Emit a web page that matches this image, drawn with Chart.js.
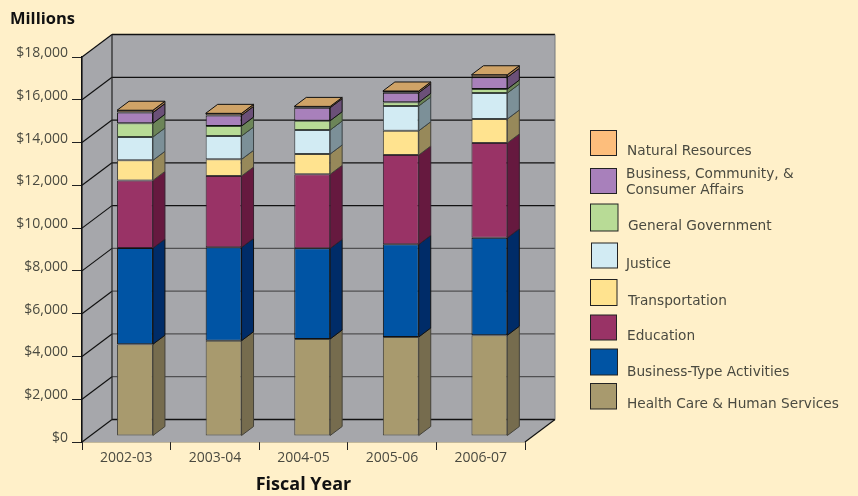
<!DOCTYPE html>
<html lang="en">
<head>
  <meta charset="UTF-8" />
  <title>Expenditures by Fiscal Year</title>
  <script src="https://cdn.jsdelivr.net/npm/chart.js"></script>
  <style>
    html, body { margin: 0; padding: 0; background: #FFF0C9; }
    canvas { display: block; }
  </style>
</head>
<body>
  <canvas id="chart" width="858" height="496"></canvas>

  <script>
    const categories = ['2002-03', '2003-04', '2004-05', '2005-06', '2006-07'];
    const yTicks = [0, 2000, 4000, 6000, 8000, 10000, 12000, 14000, 16000, 18000];

    // stack order, bottom to top ($ millions)
    const healthCare = [4290, 4455, 4535, 4630, 4710];
    const businessType = [4500, 4365, 4240, 4330, 4560];
    const education = [3160, 3335, 3460, 4175, 4430];
    const transportation = [940, 780, 950, 1135, 1120];
    const justice = [1090, 1090, 1120, 1160, 1215];
    const generalGovernment = [640, 465, 435, 170, 185];
    const businessCommunity = [500, 500, 610, 450, 550];
    const naturalResources = [110, 95, 60, 80, 120];

    const inkColor = '#4A4A40';
    const lineColor = '#111111';
    const softLine = '#505052';
    const wallColor = '#A6A7AB';
    const topColor = '#CFA367';

    // 3D look: how far the back wall and the bar depth sit from the front plane
    const wallDepth = { x: 30, y: -22.5 };
    const barShift = { x: 8.7, y: -6 };
    const barDepth = { x: 12, y: -9 };

    function quad(ctx, pts, fill, stroke, width) {
      ctx.beginPath();
      pts.forEach((p, i) => i ? ctx.lineTo(p[0], p[1]) : ctx.moveTo(p[0], p[1]));
      ctx.closePath();
      if (fill) { ctx.fillStyle = fill; ctx.fill(); }
      if (stroke) { ctx.strokeStyle = stroke; ctx.lineWidth = width || 1; ctx.stroke(); }
    }

    function seg(ctx, x1, y1, x2, y2, color, width) {
      ctx.beginPath();
      ctx.moveTo(x1, y1);
      ctx.lineTo(x2, y2);
      ctx.strokeStyle = color;
      ctx.lineWidth = width;
      ctx.stroke();
    }

    // walls, floor and the bar sides + tops, all hung off the chart scales
    const box3d = {
      id: 'box3d',
      beforeDatasetsDraw(chart) {
        const { ctx, chartArea: a, scales } = chart;
        const dx = wallDepth.x, dy = wallDepth.y;
        ctx.save();
        quad(ctx, [[a.left, a.top], [a.left + dx, a.top + dy], [a.right + dx, a.top + dy], [a.right + dx, a.bottom + dy], [a.left, a.bottom + dy]], wallColor);
        quad(ctx, [[a.left, a.top], [a.left + dx, a.top + dy], [a.left + dx, a.bottom + dy], [a.left, a.bottom]], wallColor);
        quad(ctx, [[a.left, a.bottom], [a.left + dx, a.bottom + dy], [a.right + dx, a.bottom + dy], [a.right, a.bottom]], wallColor);

        yTicks.forEach(v => {
          const y = scales.y.getPixelForValue(v);
          // the lower grid lines print lighter than the upper ones in the original
          const c = (v === 0 || v >= 10000) ? lineColor : softLine;
          seg(ctx, a.left, y, a.left + dx, y + dy, lineColor, 1.2);
          seg(ctx, a.left + dx, y + dy, a.right + dx, y + dy, c, 1.3);
        });
        seg(ctx, a.left + dx, a.top + dy, a.left + dx, a.bottom + dy, '#222222', 1.2);
        seg(ctx, a.right + dx, a.top + dy, a.right + dx, a.bottom + dy, '#77787C', 1);
        seg(ctx, a.right, a.bottom, a.right + dx, a.bottom + dy, lineColor, 1.2);
        seg(ctx, a.left, a.top, a.left, a.bottom, lineColor, 1.2);

        const sx = barShift.x, sy = barShift.y, bx = barDepth.x, by = barDepth.y;
        chart.data.datasets.forEach((ds, d) => {
          chart.getDatasetMeta(d).data.forEach(bar => {
            const r = bar.x + bar.width / 2 + sx;
            const t = bar.y + sy, b = bar.base + sy;
            quad(ctx, [[r, t], [r + bx, t + by], [r + bx, b + by], [r, b]], ds.sideColor, ds.borderColor, 1);
          });
        });
        const last = chart.data.datasets.length - 1;
        chart.getDatasetMeta(last).data.forEach(bar => {
          const l = bar.x - bar.width / 2 + sx, r = bar.x + bar.width / 2 + sx;
          const t = bar.y + sy;
          quad(ctx, [[l, t], [l + bx, t + by], [r + bx, t + by], [r, t]], topColor, lineColor, 1);
        });
        ctx.restore();
      },
      beforeDatasetDraw(chart) {
        chart.ctx.save();
        chart.ctx.translate(barShift.x, barShift.y);
      },
      afterDatasetDraw(chart) {
        chart.ctx.restore();
      }
    };

    // legend entries don't sit on a regular grid in the original, so place by hand
    const legendSlots = [
      { box: [590.5, 383.5, 26, 25.5], x: 627, y: [408] },
      { box: [590.5, 349, 27, 26], x: 627, y: [376] },
      { box: [590.5, 315, 26, 25], x: 627, y: [340] },
      { box: [590.5, 279.5, 26.5, 26], x: 628, y: [305] },
      { box: [591.5, 243, 26, 25], x: 626, y: [267.5] },
      { box: [590.5, 204, 27.5, 27], x: 628, y: [230] },
      { box: [590.5, 168.5, 26, 25], x: 626, y: [177.5, 194] },
      { box: [590.5, 130.5, 26, 25], x: 627, y: [155] }
    ];

    const sideLegend = {
      id: 'sideLegend',
      afterDraw(chart) {
        const { ctx } = chart;
        ctx.save();
        ctx.font = '13.7px "DejaVu Sans"';
        ctx.textAlign = 'left';
        ctx.textBaseline = 'alphabetic';
        chart.data.datasets.forEach((ds, i) => {
          const s = legendSlots[i];
          ctx.fillStyle = ds.backgroundColor;
          ctx.fillRect(s.box[0], s.box[1], s.box[2], s.box[3]);
          ctx.strokeStyle = '#222222';
          ctx.lineWidth = 1;
          ctx.strokeRect(s.box[0], s.box[1], s.box[2], s.box[3]);
          ctx.fillStyle = inkColor;
          [].concat(ds.label).forEach((line, n) => ctx.fillText(line, s.x, s.y[n]));
        });
        ctx.restore();
      }
    };

    function series(label, data, backgroundColor, sideColor, borderColor) {
      return {
        label, data, backgroundColor, sideColor,
        borderColor: borderColor || lineColor,
        borderWidth: 1,
        borderSkipped: false,
        inflateAmount: 0,
        categoryPercentage: 1,
        barPercentage: 0.405
      };
    }

    new Chart(document.getElementById('chart'), {
      type: 'bar',
      data: {
        labels: categories,
        datasets: [
          series('Health Care & Human Services', healthCare, '#A89A6E', '#766C4E', '#45433A'),
          series('Business-Type Activities', businessType, '#0054A4', '#002C68'),
          series('Education', education, '#993366', '#66193F', '#3A2030'),
          series('Transportation', transportation, '#FFE38F', '#97895A', '#45433A'),
          series('Justice', justice, '#D2EBF3', '#7C9098', '#3A4245'),
          series('General Government', generalGovernment, '#B8DB96', '#6C8558', '#3A4535'),
          series(['Business, Community, &', 'Consumer Affairs'], businessCommunity, '#A880BB', '#6B5078'),
          series('Natural Resources', naturalResources, '#FDBE7C', '#A5794F')
        ]
      },
      options: {
        responsive: false,
        animation: false,
        layout: { padding: { left: 10, right: 333, top: 0, bottom: 0 } },
        plugins: {
          legend: { display: false },
          tooltip: { enabled: false },
          title: {
            display: true,
            text: 'Millions',
            align: 'start',
            color: '#111111',
            font: { family: '"Open Sans"', size: 16.5, weight: 'bold', lineHeight: 1.2 },
            padding: { top: 9, bottom: 28.2 }
          }
        },
        scales: {
          x: {
            stacked: true,
            afterFit(scale) { scale.height = 54; },
            grid: { offset: true, drawOnChartArea: false, tickLength: 8, tickColor: '#222222', tickWidth: 1 },
            border: { color: lineColor, width: 1.2 },
            ticks: { color: inkColor, padding: 0, maxRotation: 0, font: { family: '"Open Sans"', size: 14 } },
            title: {
              display: true,
              text: 'Fiscal Year',
              color: '#111111',
              font: { family: '"Open Sans"', size: 18, weight: 'bold' },
              padding: { top: 5, bottom: 0 }
            }
          },
          y: {
            stacked: true,
            min: 0,
            max: 18000,
            afterFit(scale) { scale.width = 72; },
            grid: { drawOnChartArea: false, tickLength: 10, tickColor: '#222222', tickWidth: 1 },
            border: { color: lineColor, width: 1.2 },
            ticks: {
              stepSize: 2000,
              color: inkColor,
              padding: 4,
              labelOffset: -4,
              font: { family: '"Open Sans"', size: 14 },
              callback: v => '$' + v.toLocaleString('en-US')
            }
          }
        }
      },
      plugins: [box3d, sideLegend]
    });
  </script>
</body>
</html>
